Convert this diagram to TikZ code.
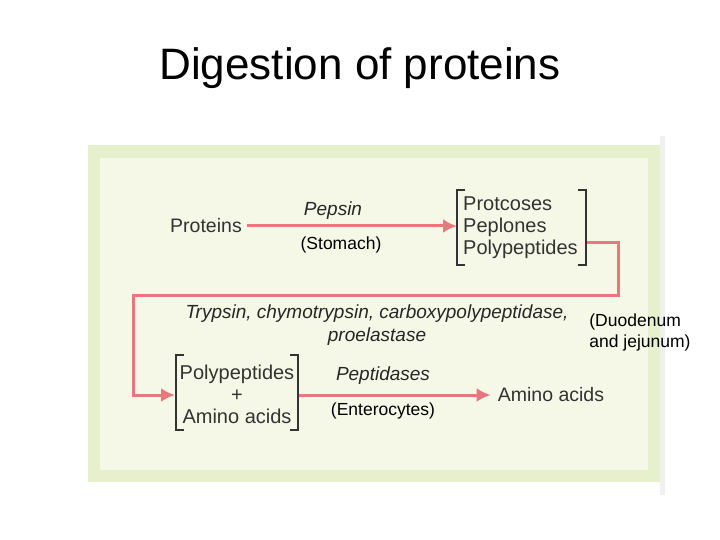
\documentclass[tikz,border=0pt]{standalone}
\usepackage{fontspec}
\setmainfont{Liberation Sans}
\usetikzlibrary{arrows.meta}
\definecolor{arr}{RGB}{232,120,125}
\definecolor{bgout}{RGB}{230,240,205}
\definecolor{bgin}{RGB}{245,248,230}
\begin{document}
\begin{tikzpicture}[x=1pt,y=-1pt,
  flow/.style={draw=arr,line width=3pt,-{Latex[length=14pt,width=14pt]}},
  brk/.style={draw=black!80,line width=1.2pt},
  lbl/.style={inner sep=1pt,font=\fontsize{19.5}{22}\selectfont},
  enz/.style={inner sep=1pt,font=\fontsize{19}{21}\selectfont\itshape,text=black!85},
  loc/.style={inner sep=1pt,font=\fontsize{17.5}{21}\selectfont}]
\useasboundingbox (0,0) rectangle (720,540);
\fill[white] (0,0) rectangle (720,540);
\node[font=\fontsize{44}{48}\selectfont] (title) at (360,68) {Digestion of proteins};
\fill[bgout] (88,145) rectangle (660,482);
\fill[bgin] (100,158) rectangle (648,470);
\fill[black!6] (660,136) rectangle (665,495);
% top row
\node[lbl,text=black!80] (prot) at (206,226) {Proteins};
\node[enz] (pepsin) at (333,211) {Pepsin};
\node[loc] (stom) at (341,245) {(Stomach)};
\node[lbl,align=left,anchor=west,text=black!80,font=\fontsize{20}{22}\selectfont] (mix1) at (462,228) {Protcoses\\Peplones\\Polypeptides};
\draw[brk] (465,190) -- (457,190) -- (457,265) -- (465,265);
\draw[brk] (578,190) -- (586,190) -- (586,265) -- (578,265);
\coordinate (b1l) at (457,226);
\coordinate (b1r) at (587,242);
\draw[flow] (prot.east) ++(4,0) -- (b1l);
% middle
\node[enz] (tryp) at (377,314) {Trypsin, chymotrypsin, carboxypolypeptidase,};
\node[enz] (proel) at (377,337) {proelastase};
\node[loc,align=left] (duo) at (640,332) {(Duodenum\\and jejunum)};
% bottom
\node[lbl,align=center,text=black!80,font=\fontsize{20}{22}\selectfont] (mix2) at (237,394) {Polypeptides\\+\\Amino acids};
\draw[brk] (184,355) -- (176,355) -- (176,430) -- (184,430);
\draw[brk] (290,355) -- (298,355) -- (298,430) -- (290,430);
\coordinate (b2l) at (175,395);
\coordinate (b2r) at (299,395);
\node[enz] (pept) at (383,376) {Peptidases};
\node[loc] (ent) at (383,411) {(Enterocytes)};
\node[lbl,text=black!80] (amino) at (551,395) {Amino acids};
\draw[flow] (b1r) -- (618,242) -- (618,295) -- (133,295) -- (133,395) -- (b2l);
\draw[flow] (b2r) -- ([xshift=-6pt]amino.west);
\end{tikzpicture}
\end{document}
